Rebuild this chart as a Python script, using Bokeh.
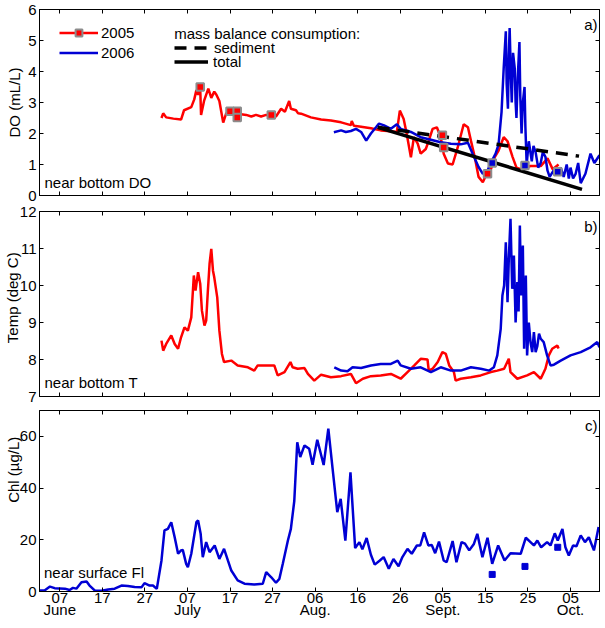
import numpy as np
from bokeh.plotting import figure
from bokeh.models import Range1d, FixedTicker, LinearAxis, Label, Legend, LegendItem
from bokeh.layouts import column
from bokeh.embed import file_html
from bokeh.resources import INLINE

# ---------------- data (x = day of year, 2005 calendar; 07 June = 158) ----------------
day_ticks = [158, 168, 178, 188, 198, 208, 218, 228, 238, 248, 258, 268, 278]
day_labels = ["07", "17", "27", "07", "17", "27", "06", "16", "26", "05", "15", "25", "05"]
month_ticks = [158, 188, 218, 248, 278]
month_labels = ["June", "July", "Aug.", "Sept.", "Oct."]

do05_day = [181.9, 182.3, 183.0, 184.7, 186.5, 187.2, 188.9, 189.6, 190.1, 190.5, 191.0, 191.2, 191.9,
            192.9, 193.6, 194.3, 194.8, 195.5, 196.4, 197.1, 198.0, 199.0, 199.7, 200.6, 201.8, 203.0,
            204.1, 205.3, 206.5, 207.7, 208.8, 210.0, 210.9, 211.9, 212.3, 213.5, 214.0, 214.7, 217.0,
            219.4, 221.7, 224.1, 226.4, 226.6, 227.1, 228.8, 231.1, 233.4, 235.8, 237.2, 237.9, 238.8,
            239.5, 240.5, 241.2, 242.1, 242.8, 244.0, 244.7, 245.6, 246.6, 247.5, 248.2, 249.2, 250.3,
            251.5, 252.9, 253.9, 254.6, 255.5, 256.4, 257.4, 258.3, 259.2, 260.2, 261.1, 262.3, 263.2,
            264.4, 265.3, 266.3, 268.6, 271.0, 272.6, 273.8, 275.2]
do05_val = [2.50, 2.65, 2.52, 2.48, 2.45, 2.75, 2.85, 3.10, 3.40, 3.25, 3.45, 2.60, 3.05,
            3.45, 3.15, 3.35, 3.25, 3.05, 2.35, 2.65, 2.70, 2.60, 2.62, 2.62, 2.60, 2.55,
            2.60, 2.55, 2.60, 2.58, 2.55, 2.80, 2.70, 3.05, 2.80, 2.75, 2.65, 2.64, 2.52,
            2.45, 2.42, 2.36, 2.27, 2.40, 2.25, 2.22, 2.17, 2.10, 2.07, 2.05, 2.74, 2.47,
            2.00, 1.23, 1.88, 1.67, 1.35, 1.50, 1.77, 2.15, 2.20, 1.88, 1.35, 1.03, 1.00,
            1.55, 2.30, 2.20, 1.77, 1.24, 0.60, 0.43, 0.70, 0.80, 1.24, 1.45, 1.88, 1.75,
            1.24, 0.90, 0.85, 0.95, 0.95, 1.20, 0.85, 1.00]

do06_day = [222.4, 224.1, 225.2, 226.4, 227.6, 228.8, 230.0, 231.1, 232.3, 233.0, 234.2, 235.8, 237.2,
            238.1, 240.5, 242.8, 245.2, 247.5, 249.9, 252.2, 253.9, 255.0, 256.4, 257.4, 258.5, 259.2,
            260.4, 261.1, 261.8, 262.3, 262.8, 263.0, 263.3, 263.5, 263.7, 264.0, 264.2, 264.5, 264.9,
            265.1, 265.3, 265.6, 266.0, 266.2, 266.5, 266.8, 267.2, 267.4, 267.7, 268.2, 268.9, 269.3,
            269.8, 270.4, 271.0, 271.5, 272.1, 272.6, 273.1, 274.0, 274.9, 275.7, 276.4, 277.1, 277.6,
            278.0, 278.6, 279.2, 279.8, 280.4, 281.5, 282.7, 283.6, 284.8]
do06_val = [2.04, 2.10, 2.05, 2.08, 2.15, 2.05, 1.77, 2.00, 2.20, 2.32, 2.26, 2.15, 2.30,
            2.15, 2.05, 1.88, 1.80, 1.72, 1.67, 1.65, 1.70, 1.35, 0.92, 0.70, 0.80, 1.03,
            1.35, 1.65, 2.70, 4.10, 5.30, 3.60, 2.80, 4.50, 5.40, 3.80, 3.00, 4.60, 4.10,
            3.00, 2.50, 3.80, 4.95, 3.20, 2.00, 3.00, 3.50, 2.20, 1.00, 1.75, 1.10, 1.60,
            1.40, 0.90, 1.05, 1.40, 1.25, 0.80, 0.60, 0.80, 0.75, 0.90, 0.60, 1.00, 0.55,
            0.90, 0.55, 0.70, 1.05, 0.40, 0.70, 1.35, 1.05, 1.30]

smp05_day = [191.0, 198.0, 199.7, 199.7, 207.7, 247.9, 248.2, 258.5]
smp05_do = [3.50, 2.72, 2.72, 2.52, 2.60, 1.94, 1.55, 0.70]
smp06_day = [259.6, 267.3, 275.0]
smp06_do = [1.05, 0.97, 0.77]
smp06_chl = [6.6, 9.7, 17.1]

sed_day = [232.7, 280.0]
sed_do = [2.20, 1.27]
tot_day = [232.7, 280.7]
tot_do = [2.20, 0.20]

t05_day = [181.9, 182.3, 183.0, 184.2, 185.0, 185.8, 186.5, 187.3, 188.1, 188.9, 189.5, 189.9, 190.5,
           191.0, 191.4, 192.0, 192.4, 192.8, 193.2, 193.6, 194.0, 194.3, 195.0, 195.5, 196.1, 196.6,
           198.3, 199.8, 202.2, 203.7, 204.5, 208.4, 209.2, 210.8, 212.2, 212.7, 213.9, 215.5, 216.3,
           217.8, 219.4, 221.7, 224.1, 226.4, 227.6, 229.2, 231.1, 233.4, 235.8, 238.1, 239.7, 241.3,
           242.8, 244.4, 244.7, 245.6, 246.8, 247.9, 248.7, 249.5, 250.6, 251.0, 252.2, 254.6, 256.9,
           259.3, 260.8, 262.4, 263.5, 263.9, 265.5, 267.8, 269.4, 271.0, 272.1, 272.9, 273.7, 274.9,
           275.2]
t05_val = [8.51, 8.24, 8.42, 8.65, 8.42, 8.29, 8.60, 8.87, 8.78, 9.14, 10.27, 9.86, 10.36,
           10.05, 9.32, 8.92, 9.05, 9.86, 10.59, 10.99, 10.40, 10.22, 9.68, 8.78, 8.15, 7.93,
           7.97, 7.84, 7.79, 7.70, 7.84, 7.84, 7.57, 7.66, 7.93, 7.79, 7.75, 7.77, 7.61,
           7.43, 7.59, 7.52, 7.55, 7.61, 7.36, 7.48, 7.55, 7.57, 7.61, 7.48, 7.66, 7.84,
           8.02, 8.00, 7.70, 7.75, 7.93, 8.20, 8.15, 7.84, 7.66, 7.43, 7.48, 7.52, 7.57,
           7.66, 7.70, 7.75, 8.02, 7.66, 7.48, 7.57, 7.66, 7.48, 7.75, 8.11, 8.29, 8.38,
           8.30]

t06_day = [222.5, 224.1, 225.6, 226.8, 228.8, 231.1, 233.4, 235.8, 237.4, 238.1, 240.5, 242.8, 245.2,
           247.5, 249.9, 252.2, 254.6, 256.9, 258.9, 260.0, 260.8, 261.6, 262.0, 262.4, 262.8, 263.2,
           263.5, 263.9, 264.3, 264.7, 265.1, 265.5, 265.8, 266.1, 266.4, 266.8, 267.1, 267.5, 267.8,
           268.2, 268.6, 269.0, 269.4, 269.8, 270.2, 270.6, 271.0, 271.7, 272.5, 273.3, 274.1, 275.7,
           278.0, 280.4, 282.7, 284.3, 284.8]
t06_val = [7.79, 7.70, 7.68, 7.79, 7.77, 7.84, 7.88, 7.88, 7.97, 7.84, 7.75, 7.79, 7.66,
           7.79, 7.70, 7.70, 7.79, 7.75, 7.70, 7.79, 8.11, 8.83, 9.73, 10.00, 11.17, 9.55,
           10.72, 11.80, 9.91, 10.81, 9.00, 10.09, 9.30, 11.62, 9.73, 11.08, 8.29, 10.27, 8.11,
           9.00, 8.47, 8.20, 8.74, 8.20, 8.36, 8.70, 8.56, 8.47, 8.11, 7.84, 7.86, 7.97,
           8.11, 8.20, 8.33, 8.47, 8.33]

chl_day = [153.3, 154.5, 155.7, 156.8, 159.2, 160.3, 161.1, 161.9, 163.1, 164.3, 165.0, 166.2, 167.8,
           169.4, 170.9, 172.5, 174.0, 175.6, 177.2, 177.9, 179.1, 179.9, 180.8, 181.9, 182.6, 183.4,
           184.2, 185.0, 185.8, 186.5, 186.9, 187.7, 188.1, 188.9, 190.1, 190.5, 191.1, 191.6, 192.4,
           193.2, 194.4, 195.5, 196.6, 197.5, 198.3, 199.8, 201.4, 203.7, 205.7, 206.5, 207.7, 208.8,
           209.6, 210.4, 211.6, 212.3, 213.1, 213.8, 214.5, 215.5, 216.6, 217.4, 218.5, 220.0, 221.1,
           222.1, 223.2, 224.0, 225.1, 226.3, 227.4, 228.4, 229.1, 230.1, 231.1, 232.0, 233.2, 234.1,
           235.3, 236.4, 237.6, 238.5, 239.7, 240.7, 241.9, 242.7, 243.6, 244.6, 245.4, 246.2, 247.1,
           248.2, 248.9, 250.3, 251.2, 252.4, 253.2, 254.2, 255.3, 256.1, 257.3, 258.5, 259.6, 261.0,
           262.5, 263.9, 266.3, 267.5, 268.6, 269.4, 270.2, 271.1, 272.5, 273.3, 274.3, 275.0, 276.1,
           276.8, 277.6, 278.6, 279.4, 280.4, 281.4, 282.3, 283.5, 284.6]
chl_val = [0.4, 0.5, 1.9, 1.3, 1.1, 0.6, 1.4, 1.1, 3.6, 3.9, 2.3, 0.4, 0.3,
           0.8, 1.1, 2.3, 2.1, 1.7, 1.6, 3.2, 2.3, 2.3, 1.0, 12.0, 23.6, 24.2,
           26.8, 21.0, 14.6, 15.9, 16.1, 10.7, 9.4, 14.6, 26.8, 27.5, 22.3, 13.3, 19.1,
           15.2, 17.8, 12.6, 16.5, 12.0, 8.1, 4.3, 3.0, 2.7, 3.0, 7.5, 5.5, 3.4,
           4.9, 10.7, 19.7, 24.2, 35.0, 57.7, 52.0, 56.5, 55.2, 49.0, 58.7, 48.9, 63.0,
           47.5, 30.7, 35.8, 19.7, 46.1, 16.8, 19.1, 16.3, 20.7, 14.2, 10.4, 12.0, 13.3,
           8.8, 12.6, 9.8, 13.3, 16.5, 14.6, 17.8, 17.8, 22.9, 17.8, 18.0, 14.8, 19.3,
           12.0, 11.3, 19.5, 11.3, 19.1, 18.5, 15.9, 18.4, 22.3, 13.3, 20.8, 10.7, 17.8,
           12.0, 14.8, 14.6, 20.8, 19.1, 17.8, 19.7, 17.1, 19.1, 17.8, 22.5, 19.7, 24.2,
           17.1, 13.9, 17.8, 17.5, 21.7, 19.1, 21.0, 15.9, 24.9]

# ---------------- styling ----------------
FONT = "Liberation Sans"
FS = "15px"
RED = "#ff0000"
BLUE = "#0000d4"
GREY = "#8c8c8c"
X0, X1 = 153.24, 284.81
W = 605
NB = "\u00a0"


def make_fig(height, y0, y1, yticks, top, bottom, ylabel, ylabel_standoff, show_x=False):
    p = figure(width=W, height=height, x_range=Range1d(X0, X1), y_range=Range1d(y0, y1),
               output_backend="svg", toolbar_location=None,
               min_border_left=38, min_border_right=6, min_border_top=top, min_border_bottom=bottom)
    p.xgrid.visible = False
    p.ygrid.visible = False
    p.outline_line_color = "black"
    p.outline_line_alpha = 1.0
    p.background_fill_color = "white"
    p.border_fill_color = "white"
    p.add_layout(LinearAxis(), "above")
    p.add_layout(LinearAxis(), "right")
    for ax in list(p.below) + list(p.above):
        ax.ticker = FixedTicker(ticks=day_ticks)
    for ax in list(p.left) + list(p.right):
        ax.ticker = FixedTicker(ticks=yticks)
    for ax in list(p.below) + list(p.above) + list(p.left) + list(p.right):
        ax.major_tick_in = 4
        ax.major_tick_out = 0
        ax.minor_tick_line_color = None
        ax.axis_line_color = "black"
        ax.major_tick_line_color = "black"
        ax.major_label_text_font = FONT
        ax.major_label_text_font_size = FS
        ax.major_label_text_color = "black"
        ax.major_label_standoff = 3
    # tick-only axes: empty labels, negative standoff so they take no room
    for ax in p.above:
        ax.major_label_overrides = {t: "" for t in day_ticks}
        ax.major_label_standoff = -20
    for ax in p.right:
        ax.major_label_overrides = {t: "" for t in yticks}
        ax.major_label_standoff = 0
    ly = p.left[0]
    ly.axis_label = ylabel
    ly.axis_label_text_font = FONT
    ly.axis_label_text_font_size = FS
    ly.axis_label_text_font_style = "normal"
    ly.axis_label_text_color = "black"
    ly.axis_label_standoff = ylabel_standoff
    bx = p.below[0]
    if show_x:
        bx.major_label_overrides = {t: s for t, s in zip(day_ticks, day_labels)}
        bx.major_label_standoff = 1
        mx = LinearAxis(ticker=FixedTicker(ticks=month_ticks),
                        major_label_overrides={t: s for t, s in zip(month_ticks, month_labels)},
                        major_tick_in=0, major_tick_out=0, minor_tick_line_color=None,
                        axis_line_color=None, major_label_standoff=-5,
                        major_label_text_font=FONT, major_label_text_font_size=FS,
                        major_label_text_color="black")
        p.add_layout(mx, "below")
    else:
        bx.major_label_overrides = {t: "" for t in day_ticks}
        bx.major_label_standoff = -20
    return p


def txt(p, x, y, s, align="left"):
    p.add_layout(Label(x=x, y=y, text=s, text_font=FONT, text_font_size=FS, text_color="black",
                       text_align=align, text_baseline="alphabetic"))


def leg(p, item, x, ybottom, gw, standoff):
    L = Legend(items=[item], location=(x, ybottom), padding=0, margin=0, spacing=0,
               glyph_width=gw, glyph_height=17, label_height=17, label_standoff=standoff,
               label_text_font=FONT, label_text_font_size=FS, label_text_color="black",
               border_line_color=None, background_fill_alpha=0.0)
    p.add_layout(L)


# ---------------- panel a: DO ----------------
pa = make_fig(203, 0, 6, [0, 1, 2, 3, 4, 5, 6], 9, 8, "DO (mL/L)", 2)
ra = pa.line(do05_day, do05_val, line_color=RED, line_width=2.5)
ba = pa.line(do06_day, do06_val, line_color=BLUE, line_width=2.5)
rs = pa.line(sed_day, sed_do, line_color="black", line_width=3.5, line_dash="12 8")
rt = pa.line(tot_day, tot_do, line_color="black", line_width=3.5)
m05 = pa.scatter(smp05_day, smp05_do, marker="square", size=7.5, fill_color=RED,
                 line_color=GREY, line_width=2)
m06 = pa.scatter(smp06_day, smp06_do, marker="square", size=7.5, fill_color=BLUE,
                 line_color=GREY, line_width=2)
m06_leg = pa.scatter(smp06_day[:0], smp06_do[:0], marker="square", size=7, fill_color=BLUE,
                     line_color=BLUE, line_width=0)

leg(pa, LegendItem(label="2005", renderers=[ra, m05]), 20, 154, 39, 3)
leg(pa, LegendItem(label="2006", renderers=[ba, m06_leg]), 20, 134, 39, 3)
leg(pa, LegendItem(label="sediment", renderers=[rs]), 135, 139, 34, 6)
leg(pa, LegendItem(label="total", renderers=[rt]), 135, 125, 34, 5)
txt(pa, 184.9, 5.21, "mass balance consumption:")
txt(pa, 154.41, 0.42, "near bottom DO")
txt(pa, 284.34, 5.52, "a)", align="right")

# ---------------- panel b: temperature ----------------
pb = make_fig(201, 7, 12, [7, 8, 9, 10, 11, 12], 8, 8, NB * 3 + "Temp (deg C)", -4)
pb.line(t05_day, t05_val, line_color=RED, line_width=2.5)
pb.line(t06_day, t06_val, line_color=BLUE, line_width=2.5)
txt(pb, 154.41, 7.38, "near bottom T")
txt(pb, 284.34, 11.59, "b)", align="right")

# ---------------- panel c: chlorophyll ----------------
pc = make_fig(219, 0, 70, [0, 20, 40, 60], 6, 32, NB * 15 + "Chl (\u00b5g/L)", -5, show_x=True)
pc.line(chl_day, chl_val, line_color=BLUE, line_width=2.5)
pc.scatter(smp06_day, smp06_chl, marker="square", size=6, fill_color=BLUE, line_color=BLUE)
txt(pc, 154.3, 7.35, "near surface Fl")
txt(pc, 284.34, 64.2, "c)", align="right")

layout = column(pa, pb, pc, spacing=0)
open("out.html", "w").write(file_html(layout, INLINE))
